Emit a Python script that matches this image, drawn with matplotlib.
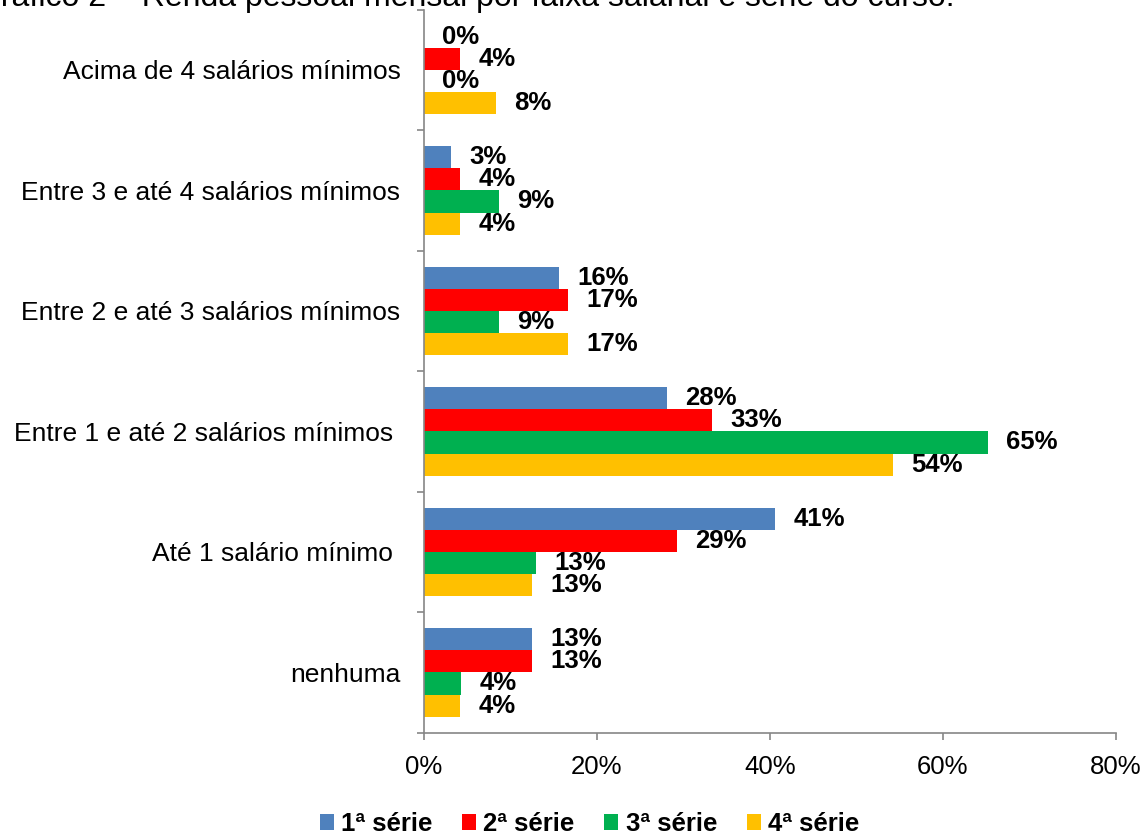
import numpy as np
import matplotlib.pyplot as plt
from matplotlib.ticker import FixedLocator

plt.rcParams['font.family'] = ['Liberation Sans', 'DejaVu Sans']

categorias = ['nenhuma', 'Até 1 salário mínimo ', 'Entre 1 e até 2 salários mínimos ',
              'Entre 2 e até 3 salários mínimos', 'Entre 3 e até 4 salários mínimos',
              'Acima de 4 salários mínimos']
series = ['1ª série', '2ª série', '3ª série', '4ª série']

# percentuais por faixa (de baixo para cima)
serie1 = [12.5, 40.6, 28.1, 15.6, 3.1, 0.0]
serie2 = [12.5, 29.2, 33.3, 16.7, 4.2, 4.2]
serie3 = [4.3, 13.0, 65.2, 8.7, 8.7, 0.0]
serie4 = [4.2, 12.5, 54.2, 16.7, 4.2, 8.3]

cores = ['#4F81BD', '#FF0000', '#00B050', '#FFC000']
valores = [serie1, serie2, serie3, serie4]

fig = plt.figure(figsize=(11.47, 8.35), dpi=100)
ax = fig.add_axes([424 / 1147, 1 - 732.7 / 835, 692 / 1147, 723 / 835])

y = np.arange(len(categorias))
h = 0.183
offsets = [1.5 * h, 0.5 * h, -0.5 * h, -1.5 * h]

for vals, cor, off, nome in zip(valores, cores, offsets, series):
    bars = ax.barh(y + off, vals, height=h, color=cor, label=nome)
    for b, v in zip(bars, vals):
        # arredondamento como no Excel (12,5 -> 13)
        ax.annotate(f'{int(v + 0.5)}%', (b.get_width(), b.get_y() + h / 2),
                    xytext=(13, 0), textcoords='offset points',
                    ha='left', va='center', fontsize=18.5, fontweight='bold')

ax.set_xlim(0, 80)
ax.set_ylim(-0.5, len(categorias) - 0.5)
ax.set_xticks([0, 20, 40, 60, 80])
ax.set_xticklabels(['0%', '20%', '40%', '60%', '80%'], fontsize=18.5)
ax.set_yticks(y)
ax.set_yticklabels(categorias, fontsize=19)
ax.yaxis.set_minor_locator(FixedLocator(np.arange(-0.5, len(categorias), 1)))

ax.tick_params(axis='y', which='major', length=0, pad=17)
ax.tick_params(axis='y', which='minor', length=5, color='#868686', width=1.2)
ax.tick_params(axis='x', length=5, color='#868686', width=1.2, pad=11)

for s in ['top', 'right']:
    ax.spines[s].set_visible(False)
for s in ['left', 'bottom']:
    ax.spines[s].set_color('#868686')
    ax.spines[s].set_linewidth(1.2)

fig.legend(loc='center', bbox_to_anchor=(589.5 / 1147, 1 - 824 / 835), ncol=4,
           frameon=False, prop={'size': 18.5, 'weight': 'bold'},
           handlelength=0.55, handleheight=0.55, handletextpad=0.28,
           columnspacing=1.15, borderpad=0)

# titulo cortado no topo, como na imagem original
fig.text(955 / 1147, 1 - 6 / 835, 'Gráfico 2 – Renda pessoal mensal por faixa salarial e série do curso.',
         ha='right', va='baseline', fontsize=23)

plt.savefig('out.png', dpi=100)
